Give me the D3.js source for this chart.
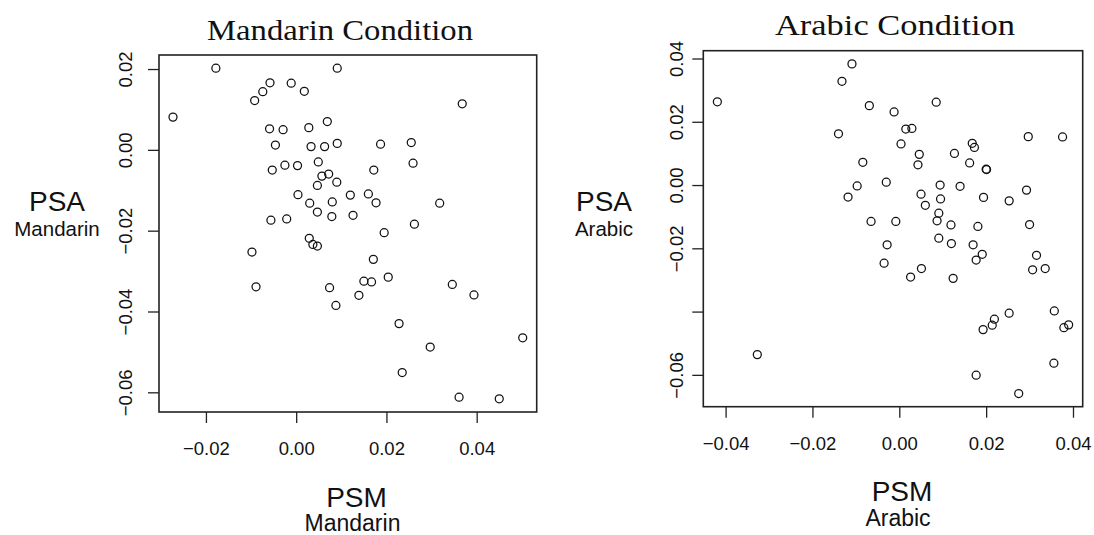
<!DOCTYPE html>
<html>
<head>
<meta charset="utf-8">
<script src="https://cdn.jsdelivr.net/npm/d3@7"></script>
<style>
  html, body { margin: 0; padding: 0; background: #fff; }
  svg { display: block; }
  .sans { font-family: "Liberation Sans", Arial, Helvetica, sans-serif; fill: #111; }
  .serif { font-family: "Liberation Serif", "Times New Roman", serif; fill: #111; }
</style>
</head>
<body>
<svg id="chart" width="1094" height="535"></svg>
<script>
// ---------- data ----------
const mandarinPSM = [-0.0178,-0.0273,-0.0092,-0.0074,-0.0058,-0.0011,0.0018,0.0091,-0.0059,-0.0029,
  0.0028,0.0069,0.0091,-0.0046,0.0033,0.0063,-0.0053,-0.0025,0.0003,0.0049,
  0.0057,0.0072,0.0047,0.0090,0.0004,0.0030,0.0080,0.0047,-0.0056,-0.0021,
  0.0079,0.0029,0.0037,0.0047,-0.0098,-0.0089,0.0074,0.0088,0.0368,0.0187,
  0.0255,0.0259,0.0172,0.0120,0.0160,0.0177,0.0126,0.0318,0.0262,0.0195,
  0.0171,0.0150,0.0167,0.0204,0.0139,0.0346,0.0394,0.0228,0.0297,0.0502,
  0.0235,0.0361,0.0450];
const mandarinPSA = [0.0202,0.0081,0.0122,0.0144,0.0166,0.0165,0.0145,0.0202,0.0052,0.0050,
  0.0055,0.0070,0.0016,0.0012,0.0008,0.0008,-0.0050,-0.0038,-0.0039,-0.0030,
  -0.0065,-0.0060,-0.0088,-0.0080,-0.0111,-0.0132,-0.0129,-0.0154,-0.0174,-0.0171,
  -0.0165,-0.0219,-0.0234,-0.0238,-0.0253,-0.0339,-0.0341,-0.0385,0.0114,0.0014,
  0.0018,-0.0033,-0.0050,-0.0112,-0.0109,-0.0131,-0.0162,-0.0132,-0.0184,-0.0205,
  -0.0271,-0.0325,-0.0327,-0.0315,-0.0360,-0.0333,-0.0359,-0.0430,-0.0488,-0.0465,
  -0.0551,-0.0612,-0.0616];
const arabicPSM = [-0.0109,-0.0132,-0.0419,-0.0069,-0.0140,-0.0084,-0.0097,-0.0118,-0.0065,-0.0327,
  -0.0012,0.0085,0.0015,0.0029,0.0004,0.0046,0.0043,-0.0030,0.0127,0.0168,
  0.0173,0.0162,0.0200,0.0201,0.0297,0.0376,0.0094,0.0140,0.0050,0.0095,
  0.0060,0.0194,0.0253,0.0293,0.0091,0.0087,-0.0008,0.0119,0.0181,0.0300,
  -0.0028,-0.0035,0.0091,0.0120,0.0170,0.0191,0.0177,0.0051,0.0026,0.0124,
  0.0316,0.0307,0.0336,0.0253,0.0219,0.0214,0.0193,0.0357,0.0379,0.0390,
  0.0356,0.0177,0.0275];
const arabicPSA = [0.0383,0.0328,0.0263,0.0251,0.0162,0.0072,-0.0003,-0.0038,-0.0115,-0.0536,
  0.0231,0.0262,0.0177,0.0179,0.0130,0.0097,0.0064,0.0009,0.0100,0.0132,
  0.0119,0.0070,0.0050,0.0049,0.0153,0.0152,0.0000,-0.0004,-0.0029,-0.0044,
  -0.0064,-0.0039,-0.0050,-0.0016,-0.0089,-0.0113,-0.0115,-0.0126,-0.0131,-0.0125,
  -0.0189,-0.0247,-0.0168,-0.0185,-0.0189,-0.0219,-0.0237,-0.0264,-0.0291,-0.0295,
  -0.0222,-0.0268,-0.0264,-0.0405,-0.0424,-0.0443,-0.0457,-0.0398,-0.0451,-0.0442,
  -0.0563,-0.0601,-0.0659];

const mandarinXTicks = [-0.02, 0.00, 0.02, 0.04];
const mandarinYTicks = [-0.06, -0.04, -0.02, 0.00, 0.02];
const arabicXTicks = [-0.04, -0.02, 0.00, 0.02, 0.04];
const arabicYTicks = [-0.06, -0.04, -0.02, 0.00, 0.02, 0.04];
const arabicYTickLabels = ["\u22120.06", "", "\u22120.02", "0.00", "0.02", "0.04"];

const titles = ["Mandarin Condition", "Arabic Condition"];
const languages = ["Mandarin", "Arabic"];

// ---------- drawing ----------
const svg = d3.select("#chart");
const fmt = d3.format(".2f");

function padExtent(arr) {
  const [lo, hi] = d3.extent(arr);
  const p = (hi - lo) * 0.04;
  return [lo - p, hi + p];
}

function drawPanel(cfg) {
  const x = d3.scaleLinear().domain(padExtent(cfg.xs)).range([cfg.left, cfg.right]);
  const y = d3.scaleLinear().domain(padExtent(cfg.ys)).range([cfg.bottom, cfg.top]);
  const g = svg.append("g");

  // x axis
  const xAxis = d3.axisBottom(x).tickValues(cfg.xTicks).tickFormat(fmt)
    .tickSize(11).tickSizeOuter(0).tickPadding(0);
  const xg = g.append("g").attr("transform", `translate(0,${cfg.bottom})`).call(xAxis);
  xg.select(".domain").remove();
  xg.selectAll(".tick line").attr("stroke", "#222").attr("stroke-width", 1.3);
  xg.selectAll(".tick text").attr("class", "sans").attr("font-size", 18.5)
    .attr("y", 43).attr("dy", 0).attr("fill", "#111");

  // y axis
  const yAxis = d3.axisLeft(y).tickValues(cfg.yTicks)
    .tickFormat((d, i) => cfg.yTickLabels ? cfg.yTickLabels[i] : fmt(d))
    .tickSize(11).tickSizeOuter(0);
  const yg = g.append("g").attr("transform", `translate(${cfg.left},0)`).call(yAxis);
  yg.select(".domain").remove();
  yg.selectAll(".tick line").attr("stroke", "#222").attr("stroke-width", 1.3);
  yg.selectAll(".tick text").attr("class", "sans").attr("font-size", 18.5)
    .attr("text-anchor", "middle").attr("transform", "rotate(-90)")
    .attr("x", 0).attr("y", cfg.yLabelOffset).attr("dy", 0).attr("fill", "#111");

  // box
  g.append("rect").attr("x", cfg.left).attr("y", cfg.top)
    .attr("width", cfg.right - cfg.left).attr("height", cfg.bottom - cfg.top)
    .attr("fill", "none").attr("stroke", "#222").attr("stroke-width", 1.6);

  // points
  g.append("g").selectAll("circle").data(cfg.xs.map((v, i) => [v, cfg.ys[i]]))
    .join("circle")
    .attr("cx", d => x(d[0])).attr("cy", d => y(d[1])).attr("r", 4)
    .attr("fill", "none").attr("stroke", "#111").attr("stroke-width", 1.25);

  // title
  g.append("text").attr("class", "serif").attr("x", cfg.titleX).attr("y", cfg.top - 15.5)
    .attr("text-anchor", "middle").attr("font-size", 29)
    .attr("textLength", cfg.titleLen).attr("lengthAdjust", "spacingAndGlyphs")
    .text(cfg.title);

  // y label
  g.append("text").attr("class", "sans").attr("x", cfg.yLabX).attr("y", 211)
    .attr("text-anchor", "middle").attr("font-size", 28).text("PSA");
  g.append("text").attr("class", "sans").attr("x", cfg.yLabX).attr("y", 236)
    .attr("text-anchor", "middle").attr("font-size", 20.5).text(cfg.lang);

  // x label
  g.append("text").attr("class", "sans").attr("x", cfg.xLabX).attr("y", cfg.bottom + 94.5)
    .attr("text-anchor", "middle").attr("font-size", 28).text("PSM");
  g.append("text").attr("class", "sans").attr("x", cfg.xLabX - 4).attr("y", cfg.bottom + 119)
    .attr("text-anchor", "middle").attr("font-size", 23).text(cfg.lang);
}

drawPanel({
  xs: mandarinPSM, ys: mandarinPSA,
  left: 159, right: 536.7, top: 55, bottom: 412,
  xTicks: mandarinXTicks, yTicks: mandarinYTicks,
  yLabelOffset: -27,
  title: titles[0], titleX: 340, titleLen: 266,
  lang: languages[0], yLabX: 57, xLabX: 356.5
});

drawPanel({
  xs: arabicPSM, ys: arabicPSA,
  left: 703.3, right: 1082.7, top: 50.7, bottom: 406.7,
  xTicks: arabicXTicks, yTicks: arabicYTicks, yTickLabels: arabicYTickLabels,
  yLabelOffset: -20,
  title: titles[1], titleX: 895, titleLen: 240,
  lang: languages[1], yLabX: 604, xLabX: 902
});
</script>
</body>
</html>
